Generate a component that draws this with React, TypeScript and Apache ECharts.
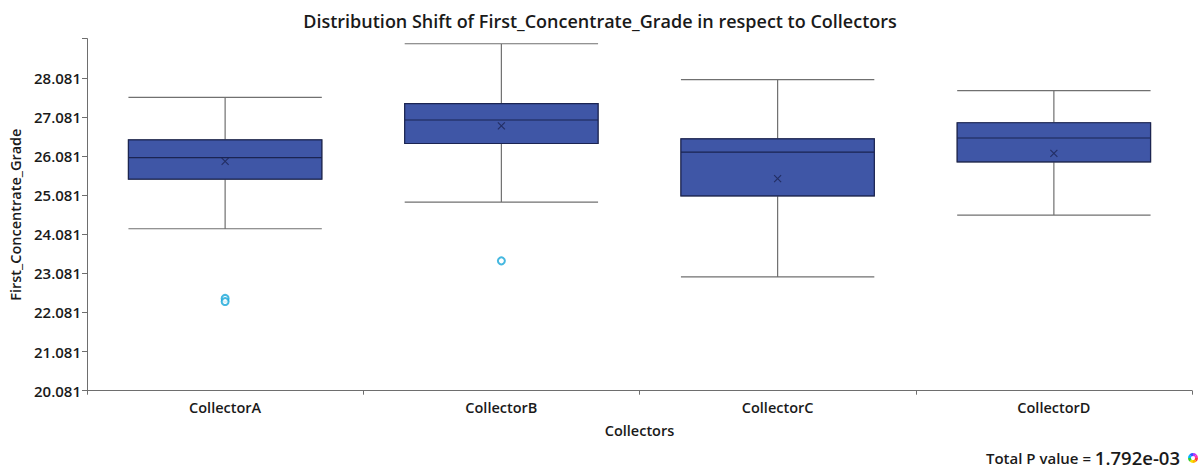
import React, { useEffect, useRef } from "react";
import * as echarts from "echarts";

const categories = ["CollectorA", "CollectorB", "CollectorC", "CollectorD"];
// [lower whisker, Q1, median, Q3, upper whisker]
const lowerWhisker = [24.22, 24.9, 22.99, 24.57];
const q1 = [25.49, 26.4, 25.06, 25.93];
const median = [26.04, 27.0, 26.18, 26.54];
const q3 = [26.49, 27.42, 26.52, 26.93];
const upperWhisker = [27.58, 28.95, 28.03, 27.75];
const means = [25.94, 26.85, 25.5, 26.15];
// outliers: [category index, value]
const outlierCats = [0, 0, 1];
const outlierValues = [22.44, 22.36, 23.4];

const yMin = 20.081;
const yMax = 29.081;
const yStep = 1;

const FONT = "'Open Sans', Lato, sans-serif";

export default function App() {
  const ref = useRef<HTMLDivElement>(null);

  useEffect(() => {
    document.body.style.margin = "0";
    if (!ref.current) return;
    const chart = echarts.init(ref.current, undefined, { renderer: "svg" });

    const fullBoxes = categories.map((_, i) => [
      lowerWhisker[i],
      q1[i],
      median[i],
      q3[i],
      upperWhisker[i],
    ]);
    const innerBoxes = categories.map((_, i) => [
      q1[i],
      q1[i],
      median[i],
      q3[i],
      q3[i],
    ]);
    const meanData = categories.map((_, i) => [i, means[i]]);
    const outlierData = outlierCats.map((c, i) => [c, outlierValues[i]]);

    const wheelColors = ["#ff3b3b", "#ffb300", "#f5e000", "#33cc33", "#00b7ff", "#3355ff", "#b033ff", "#ff33aa"];
    const wheel = wheelColors.map((c, i) => ({
      type: "sector",
      shape: {
        cx: 1193,
        cy: 458,
        r: 5,
        r0: 2,
        startAngle: (i * Math.PI * 2) / wheelColors.length,
        endAngle: ((i + 1) * Math.PI * 2) / wheelColors.length,
      },
      style: { fill: c },
      silent: true,
    }));

    chart.setOption({
      animation: false,
      backgroundColor: "#ffffff",
      textStyle: { fontFamily: FONT },
      title: {
        text: "Distribution Shift of First_Concentrate_Grade in respect to Collectors",
        left: "center",
        top: 7,
        textStyle: {
          fontFamily: FONT,
          fontSize: 18,
          fontWeight: 600,
          color: "#1a1a1a",
        },
      },
      grid: { left: 87, right: 8, top: 38.6, bottom: 79.3 },
      xAxis: [
        {
          type: "category",
          data: categories,
          name: "Collectors",
          nameLocation: "middle",
          nameGap: 32,
          nameTextStyle: { fontFamily: FONT, fontSize: 14.5, fontWeight: 600, color: "#1a1a1a" },
          axisLine: { lineStyle: { color: "#6e6e6e", width: 1 } },
          axisTick: { show: true, length: 4, lineStyle: { color: "#6e6e6e" } },
          axisLabel: { fontFamily: FONT, fontSize: 14.5, fontWeight: 600, color: "#1a1a1a", margin: 9 },
          splitLine: { show: false },
        },
        {
          type: "category",
          data: categories,
          show: false,
        },
      ],
      yAxis: {
        type: "value",
        min: yMin,
        max: yMax,
        interval: yStep,
        name: "First_Concentrate_Grade",
        nameLocation: "middle",
        nameGap: 62,
        nameTextStyle: { fontFamily: FONT, fontSize: 14.5, fontWeight: 600, color: "#1a1a1a" },
        axisLine: { show: true, lineStyle: { color: "#6e6e6e", width: 1 } },
        axisTick: { show: true, length: 5, lineStyle: { color: "#6e6e6e" } },
        axisLabel: {
          fontFamily: FONT,
          fontSize: 15,
          fontWeight: 600,
          color: "#1a1a1a",
          margin: 6,
          formatter: (v: number) =>
            v > yMax - 0.5 ? "" : (Math.round(v - yMin) + yMin).toFixed(3),
        },
        splitLine: { show: false },
      },
      series: [
        {
          type: "boxplot",
          xAxisIndex: 0,
          data: fullBoxes,
          boxWidth: ["70%", "70%"],
          itemStyle: { color: "#3f56a6", borderColor: "#707070", borderWidth: 1.2 },
          silent: true,
        },
        {
          type: "boxplot",
          xAxisIndex: 1,
          data: innerBoxes,
          boxWidth: ["70%", "70%"],
          itemStyle: { color: "#3f56a6", borderColor: "#1b2452", borderWidth: 1.2 },
          silent: true,
          z: 3,
        },
        {
          type: "scatter",
          xAxisIndex: 0,
          data: meanData,
          symbol: "path://M0 0L10 10M10 0L0 10",
          symbolSize: 7,
          itemStyle: { color: "none", borderColor: "#1b2452", borderWidth: 1.1 },
          z: 5,
          silent: true,
        },
        {
          type: "scatter",
          xAxisIndex: 0,
          data: outlierData,
          symbol: "emptyCircle",
          symbolSize: 7,
          itemStyle: { color: "#16a6d8", borderColor: "#16a6d8", borderWidth: 1.6 },
          z: 5,
          silent: true,
        },
      ],
      graphic: [
        {
          type: "text",
          right: 20,
          top: 448,
          style: {
            text: "{a|Total P value = }{b|1.792e-03}",
            rich: {
              a: { fontFamily: FONT, fontSize: 15, fontWeight: 600, fill: "#1a1a1a" },
              b: { fontFamily: FONT, fontSize: 18.5, fontWeight: 600, fill: "#1a1a1a" },
            },
          },
        },
        ...wheel,
      ],
    });

    return () => chart.dispose();
  }, []);

  return <div ref={ref} style={{ width: 1200, height: 470 }} />;
}
